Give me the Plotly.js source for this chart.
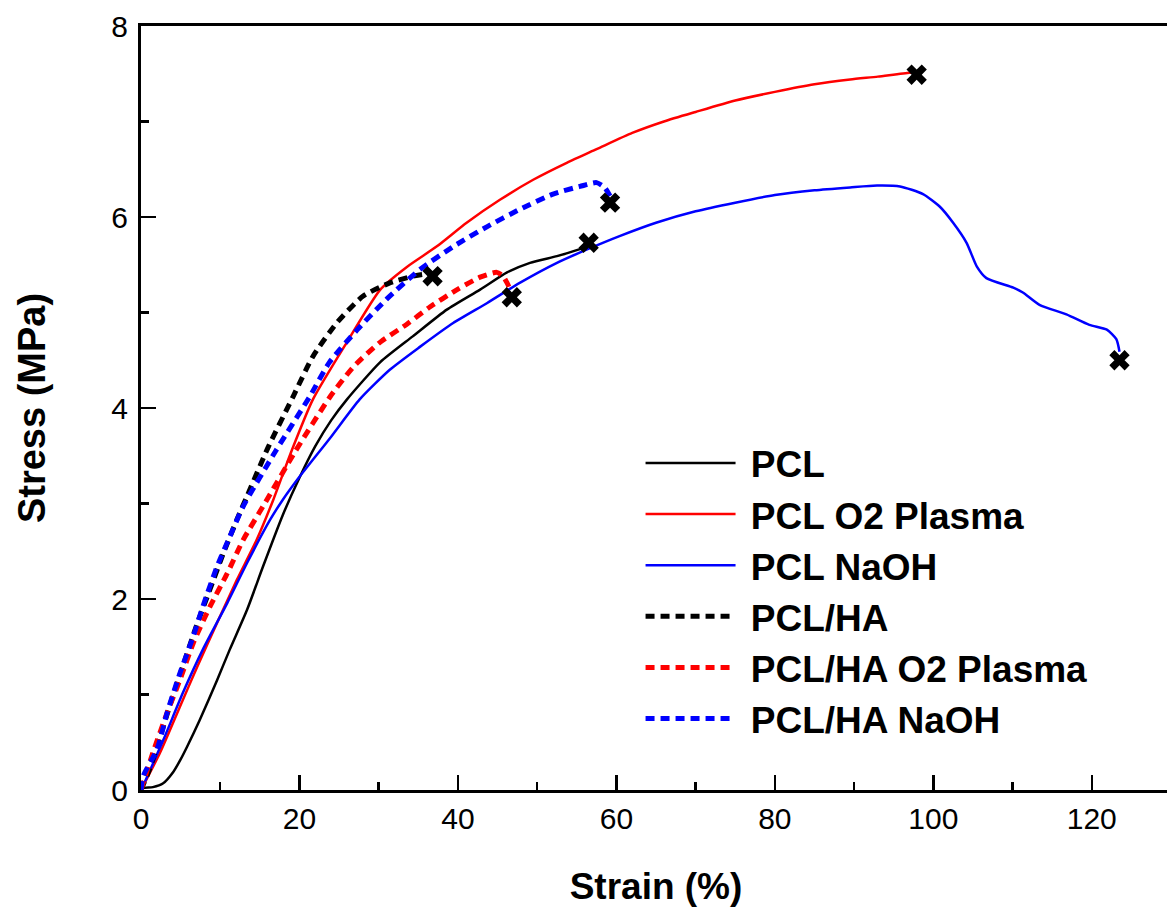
<!DOCTYPE html>
<html>
<head>
<meta charset="utf-8">
<script src="https://cdn.plot.ly/plotly-3.0.1.min.js"></script>
<style>
html, body { margin: 0; padding: 0; overflow: hidden; background: #fff; width: 1167px; height: 907px; }
#chart { width: 1175px; height: 907px; }
</style>
</head>
<body>
<div id="chart"></div>
<script>
// ---- Data ----
const pclX = [0, 0.25, 1.5, 2.8, 4.0, 5.0, 5.8, 7.4, 9.6, 11.2, 13.4, 15.4, 17.9, 20, 22, 24, 26, 30.2, 34.3, 38.6, 42.8, 46.2, 49.1, 52.5, 54.5, 56.4];
const pclY = [0, 0.02, 0.03, 0.07, 0.18, 0.32, 0.45, 0.73, 1.15, 1.47, 1.89, 2.34, 2.88, 3.27, 3.6, 3.87, 4.09, 4.48, 4.75, 5.03, 5.24, 5.42, 5.52, 5.59, 5.64, 5.69];

const pclO2X = [0, 2.4, 4.9, 7.1, 9.6, 12.1, 14.6, 16.7, 19, 21.7, 26, 30.2, 33.6, 37.3, 41.1, 45.3, 49.5, 53.8, 57.5, 62, 66, 70, 75, 80, 85, 89.5, 93, 97.0, 97.9];
const pclO2Y = [0, 0.39, 0.87, 1.29, 1.75, 2.2, 2.62, 3.04, 3.55, 4.09, 4.69, 5.24, 5.48, 5.69, 5.94, 6.18, 6.39, 6.57, 6.71, 6.88, 7.0, 7.1, 7.22, 7.31, 7.39, 7.44, 7.47, 7.51, 7.51];

const pclNaOHX = [0, 0.3, 2.8, 5.3, 7.8, 10.9, 13.4, 16.3, 17.9, 20, 24, 27.6, 31.4, 35.2, 39.4, 43.7, 47.8, 52.5, 56.3, 60.4, 65, 70, 75, 80, 85, 89.5, 92.9, 95.8, 98.7, 100.8, 102.5, 104.2, 105.5, 106.7, 110.1, 111.3, 113.4, 116.8, 119.7, 121.9, 123.1, 123.5];
const pclNaOHY = [0, 0.05, 0.52, 1.02, 1.47, 1.96, 2.38, 2.83, 3.04, 3.28, 3.70, 4.09, 4.40, 4.64, 4.89, 5.10, 5.31, 5.52, 5.66, 5.80, 5.94, 6.06, 6.15, 6.23, 6.28, 6.31, 6.33, 6.32, 6.24, 6.11, 5.94, 5.73, 5.48, 5.36, 5.26, 5.21, 5.08, 4.98, 4.87, 4.82, 4.72, 4.59];

const pclHAX = [0, 1.0, 2.0, 3.7, 5.3, 7.0, 8.7, 10.4, 12.1, 13.4, 16, 19.2, 21.7, 24.7, 28, 31.4, 34.3, 35.6, 36.8];
const pclHAY = [0, 0.2, 0.45, 0.9, 1.3, 1.72, 2.1, 2.48, 2.83, 3.08, 3.58, 4.12, 4.54, 4.89, 5.17, 5.31, 5.38, 5.40, 5.40];

const pclHAO2X = [0, 1.5, 3.3, 4.9, 6.6, 8.7, 10.9, 12.9, 15.4, 19.5, 23.8, 26.8, 30.2, 33.6, 36.5, 39.9, 42.8, 44.9, 45.7, 46.2, 46.6];
const pclHAO2Y = [0, 0.39, 0.81, 1.15, 1.54, 1.92, 2.27, 2.62, 2.97, 3.55, 4.11, 4.43, 4.69, 4.88, 5.06, 5.24, 5.37, 5.42, 5.38, 5.31, 5.24];

const pclHANaOHX = [0, 0.3, 2, 3.3, 4.9, 6.6, 7.8, 9.6, 11.2, 12.9, 17, 21.3, 23.8, 27.3, 31, 35.2, 39.4, 43.7, 47.8, 52, 55.4, 57.5, 58.5, 59.2];
const pclHANaOHY = [0, 0.15, 0.42, 0.81, 1.22, 1.61, 1.92, 2.34, 2.65, 2.97, 3.55, 4.12, 4.48, 4.82, 5.14, 5.45, 5.69, 5.90, 6.08, 6.24, 6.32, 6.36, 6.31, 6.22];

// failure points (x markers)
const breakX = [36.8, 46.8, 56.5, 59.2, 97.9, 123.5];
const breakY = [5.38, 5.16, 5.73, 6.15, 7.49, 4.50];

const seriesNames = ["PCL", "PCL O2 Plasma", "PCL NaOH", "PCL/HA", "PCL/HA O2 Plasma", "PCL/HA NaOH"];

// ---- Styling ----
const FONT = "Arial, 'Liberation Sans', sans-serif";
const solidW = 2.5, dashW = 5, dashPat = "9px,6px";
const lbl = n => "\u00a0" + n;

function lineTrace(x, y, i, color, dashed) {
  return {
    x: x, y: y, name: lbl(seriesNames[i]), mode: "lines",
    line: {color: color, width: dashed ? dashW : solidW, dash: dashed ? dashPat : "solid",
           shape: "spline", smoothing: 0.6}
  };
}

const traces = [
  lineTrace(pclX, pclY, 0, "#000000", false),
  lineTrace(pclO2X, pclO2Y, 1, "#ff0000", false),
  lineTrace(pclNaOHX, pclNaOHY, 2, "#0000ff", false),
  lineTrace(pclHAX, pclHAY, 3, "#000000", true),
  lineTrace(pclHAO2X, pclHAO2Y, 4, "#ff0000", true),
  lineTrace(pclHANaOHX, pclHANaOHY, 5, "#0000ff", true),
  {x: breakX, y: breakY, mode: "markers", showlegend: false, hoverinfo: "skip",
   marker: {symbol: "x", size: 18, color: "#000000", line: {width: 0}}}
];

const axisCommon = {
  showline: true, linecolor: "#000", linewidth: 3, mirror: true,
  showgrid: false, zeroline: false,
  ticks: "inside", ticklen: 15, tickwidth: 2.5, tickcolor: "#000",
  tickfont: {family: FONT, size: 30, color: "#000"}
};

const layout = {
  width: 1175, height: 907,
  margin: {l: 141, r: 4, t: 26, b: 117},
  paper_bgcolor: "#fff", plot_bgcolor: "#fff",
  font: {family: FONT, color: "#000"},
  xaxis: Object.assign({}, axisCommon, {
    range: [0, 130], tick0: 0, dtick: 20,
    minor: {dtick: 10, ticks: "inside", ticklen: 8, tickwidth: 2.5, tickcolor: "#000"},
    title: {text: "Strain (%)", font: {family: FONT, size: 37, weight: "bold", color: "#000"}, standoff: 40}
  }),
  yaxis: Object.assign({}, axisCommon, {
    range: [0, 8], tick0: 0, dtick: 2, ticklabelstandoff: 4,
    minor: {dtick: 1, ticks: "inside", ticklen: 8, tickwidth: 2.5, tickcolor: "#000"},
    title: {text: "Stress (MPa)", font: {family: FONT, size: 38, weight: "bold", color: "#000"}, standoff: 55}
  }),
  showlegend: true,
  legend: {
    x: 0.485, y: 0.468, xanchor: "left", yanchor: "top",
    bgcolor: "rgba(0,0,0,0)", borderwidth: 0,
    font: {family: FONT, size: 37, weight: "bold", color: "#000"},
    itemwidth: 90, tracegroupgap: 0
  }
};

Plotly.newPlot("chart", traces, layout, {staticPlot: true, displayModeBar: false});
</script>
</body>
</html>
